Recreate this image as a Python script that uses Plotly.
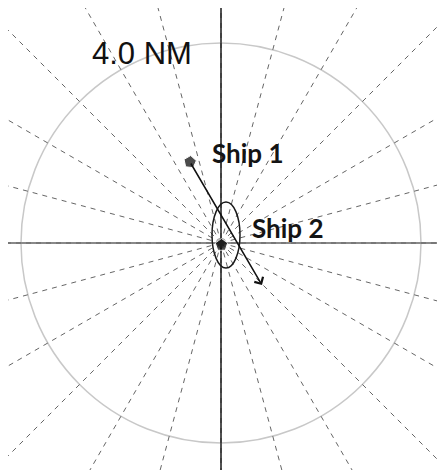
import numpy as np
import plotly.graph_objects as go

# ---- data (nautical miles, relative to own ship at origin) ----
range_ring_nm = 4.0
range_label = "4.0 NM"
ray_bearings = list(range(0, 360, 15))          # radial bearing lines (deg)

ship_names = ["Ship 1", "Ship 2"]
ship_x = [-0.62, 0.01]
ship_y = [1.62, -0.04]
ship_heading = [150, 0]
ship1_vector_end = [0.82, -0.84]
label_x = [-0.22, 0.58]
label_y = [1.80, 0.30]

ellipse_center = [0.10, 0.16]
ellipse_semi = [0.28, 0.66]

fig = go.Figure()

# radial dashed bearing lines
ray_len = 8.0
rx, ry = [], []
for b in ray_bearings:
    t = np.deg2rad(b)
    rx += [0, ray_len * np.sin(t), None]
    ry += [0, ray_len * np.cos(t), None]
fig.add_trace(go.Scatter(x=rx, y=ry, mode="lines",
                         line=dict(color="#666666", width=1, dash="5px,5px"),
                         hoverinfo="skip", showlegend=False))

# range ring
fig.add_shape(type="circle", xref="x", yref="y",
              x0=-range_ring_nm, x1=range_ring_nm, y0=-range_ring_nm, y1=range_ring_nm,
              line=dict(color="#c8c8c8", width=1.5), layer="below")

# uncertainty ellipse of ship 2
fig.add_shape(type="circle", xref="x", yref="y",
              x0=ellipse_center[0] - ellipse_semi[0], x1=ellipse_center[0] + ellipse_semi[0],
              y0=ellipse_center[1] - ellipse_semi[1], y1=ellipse_center[1] + ellipse_semi[1],
              line=dict(color="#1a1a1a", width=1.5), layer="above")

# ship 1 velocity vector
fig.add_annotation(x=ship1_vector_end[0], y=ship1_vector_end[1],
                   ax=ship_x[0], ay=ship_y[0], axref="x", ayref="y",
                   xref="x", yref="y", text="", showarrow=True,
                   arrowhead=4, arrowsize=1.3, arrowwidth=1.5, arrowcolor="#111111")

# ships
fig.add_trace(go.Scatter(x=ship_x, y=ship_y, mode="markers",
                         marker=dict(symbol="pentagon", size=[13, 13], color="#000000",
                                     angle=ship_heading),
                         hoverinfo="skip", showlegend=False))

for name, lx, ly in zip(ship_names, label_x, label_y):
    fig.add_annotation(x=lx, y=ly, xref="x", yref="y", text=name, showarrow=False,
                       xanchor="left", yanchor="middle",
                       font=dict(family="Lato", size=26, color="#141414", weight="bold"))

fig.add_annotation(x=-2.62, y=3.79, xref="x", yref="y", text=range_label, showarrow=False,
                   xanchor="left", yanchor="middle",
                   font=dict(family="Liberation Sans", size=31, color="#111111"))

fig.update_layout(
    width=437, height=462,
    margin=dict(l=0, r=0, t=0, b=0),
    paper_bgcolor="white", plot_bgcolor="white",
    xaxis=dict(range=[-4.26, 4.48], showgrid=False, showticklabels=False, ticks="",
               zeroline=True, zerolinecolor="#404040", zerolinewidth=2, fixedrange=True),
    yaxis=dict(range=[-4.54, 4.70], showgrid=False, showticklabels=False, ticks="",
               zeroline=True, zerolinecolor="#8a8a8a", zerolinewidth=2, fixedrange=True),
)

fig.write_html("out.html")
